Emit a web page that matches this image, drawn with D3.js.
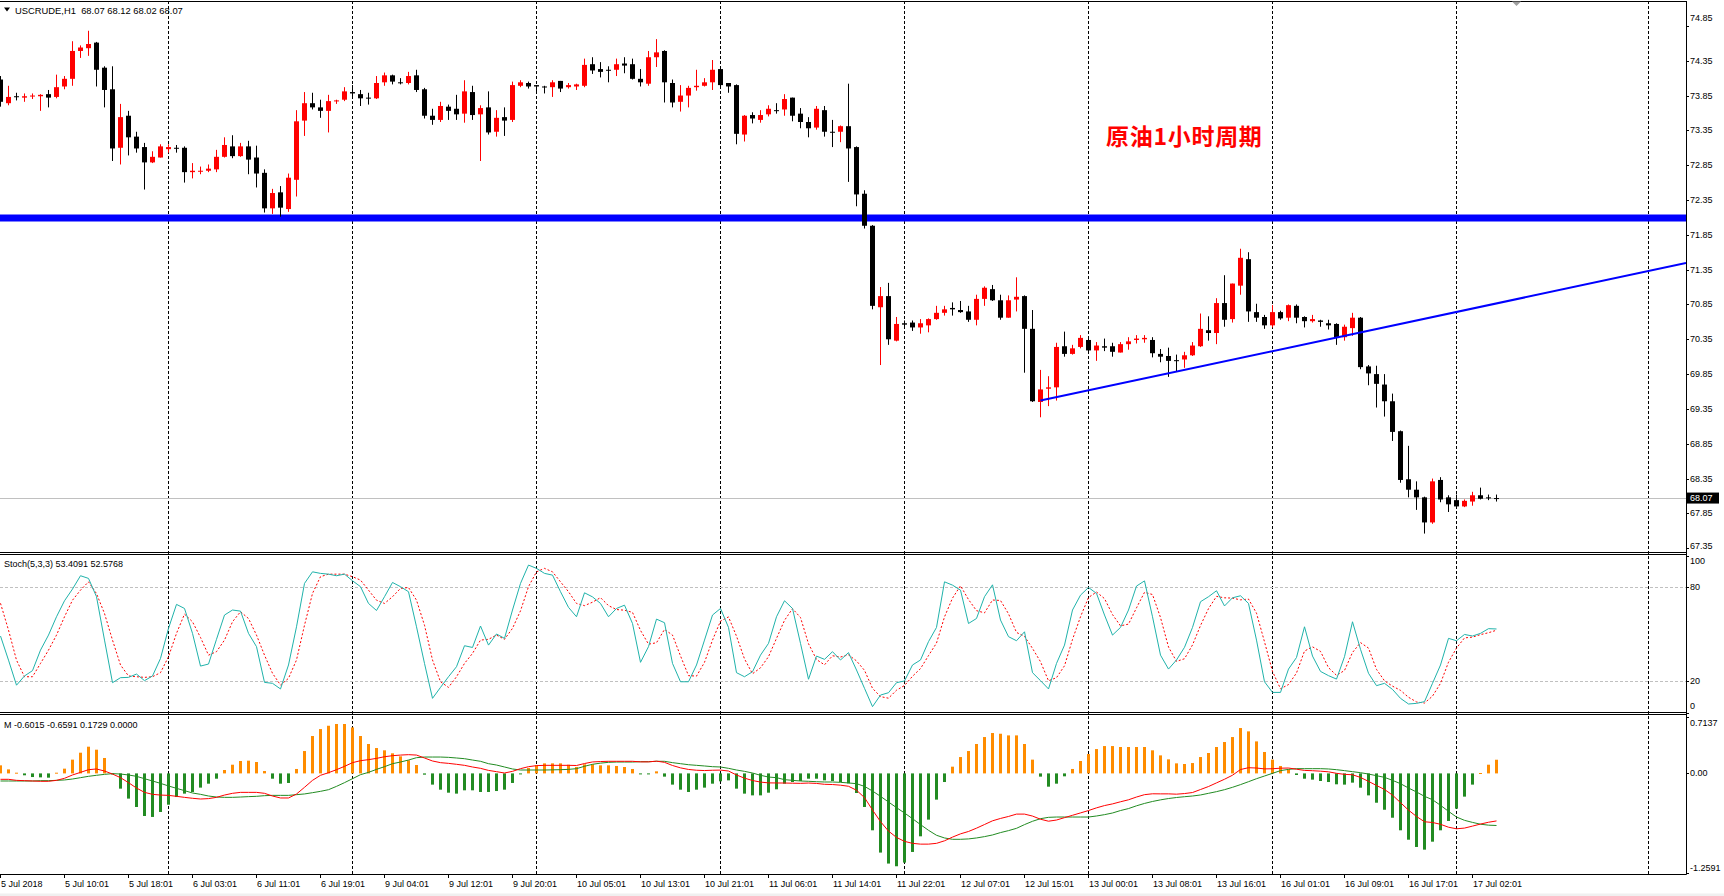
<!DOCTYPE html>
<html>
<head>
<meta charset="utf-8">
<style>
  body { margin: 0; background: #fff; }
  svg text { font-family: "Liberation Sans", Arial, sans-serif; font-size: 9px; fill: #000; }
</style>
<script src="https://d3js.org/d3.v7.min.js"></script>
</head>
<body>
<script>
// USCRUDE H1 candles, one per hour, bar 0 = 5 Jul 02:01
var opens = [
74.08,73.74,73.84,73.82,73.84,73.84,73.87,73.83,73.98,74.09,
74.49,74.53,74.61,74.25,73.94,73.10,73.56,73.26,73.11,72.89,
72.96,73.08,73.10,73.10,72.75,72.76,72.77,72.79,72.97,73.12,
72.98,73.12,72.96,72.74,72.23,72.46,72.22,72.64,73.49,73.74,
73.68,73.63,73.77,73.79,73.90,73.87,73.82,73.81,74.04,74.14,
74.04,74.03,74.14,73.94,73.56,73.50,73.69,73.66,73.59,73.90,
73.58,73.68,73.33,73.54,73.50,73.99,74.03,74.00,73.98,73.97,
74.06,73.97,73.98,73.99,74.30,74.23,74.22,74.22,74.31,74.30,
74.09,74.02,74.40,74.49,74.03,73.76,73.85,73.97,73.99,74.04,
74.23,74.03,74.00,73.29,73.57,73.50,73.58,73.64,73.65,73.82,
73.59,73.47,73.39,73.64,73.33,73.33,73.41,73.11,72.44,71.98,
70.81,70.97,70.33,70.58,70.59,70.52,70.55,70.64,70.73,70.80,
70.77,70.75,70.63,70.93,71.07,70.91,70.66,70.92,70.97,70.50,
69.45,69.64,69.66,70.25,70.14,70.24,70.34,70.19,70.25,70.25,
70.16,70.28,70.34,70.35,70.34,70.14,70.11,70.05,70.06,70.12,
70.25,70.48,70.44,70.87,70.64,71.12,71.50,70.74,70.67,70.55,
70.74,70.66,70.83,70.67,70.61,70.62,70.58,70.57,70.38,70.51,
70.66,69.96,69.85,69.70,69.46,69.03,68.34,68.19,68.08,67.72,
68.33,68.08,68.04,67.95,68.02,68.11,68.08,68.07];
var highs = [
74.13,73.99,73.89,73.88,73.88,73.87,73.93,74.15,74.13,74.63,
74.57,74.78,74.62,74.27,74.27,73.73,73.63,73.33,73.17,73.05,
73.15,73.15,73.14,73.12,72.88,72.83,72.86,73.07,73.25,73.28,
73.17,73.20,73.13,72.79,72.51,72.55,72.73,73.64,73.90,73.89,
73.79,73.86,73.79,73.97,74.00,73.93,73.89,74.13,74.18,74.15,
74.10,74.19,74.22,73.96,73.66,73.76,73.72,73.86,74.07,73.99,
73.71,73.91,73.64,73.68,74.05,74.07,74.05,74.00,73.99,74.07,
74.06,74.03,74.02,74.38,74.40,74.33,74.27,74.38,74.40,74.38,
74.23,74.49,74.66,74.50,74.08,74.00,73.99,74.22,74.10,74.36,
74.26,74.03,74.01,73.57,73.61,73.64,73.71,73.74,73.87,73.82,
73.67,73.54,73.70,73.70,73.50,73.42,74.02,73.12,72.49,71.99,
71.10,71.16,70.67,70.62,70.62,70.64,70.65,70.83,70.83,70.88,
70.90,70.83,70.99,71.11,71.13,70.99,70.98,71.24,70.98,70.77,
69.91,69.82,70.30,70.46,70.27,70.41,70.38,70.31,70.36,70.30,
70.31,70.38,70.41,70.41,70.38,70.21,70.23,70.13,70.17,70.31,
70.72,70.68,70.94,71.27,71.15,71.65,71.60,70.86,70.70,70.84,
70.76,70.85,70.85,70.68,70.70,70.63,70.63,70.58,70.56,70.73,
70.67,69.98,69.97,69.85,69.57,69.04,68.82,68.31,68.09,68.35,
68.37,68.11,68.12,68.05,68.16,68.22,68.12,68.12];
var lows = [
73.69,73.71,73.78,73.76,73.80,73.63,73.68,73.81,73.94,73.99,
74.39,74.42,73.98,73.68,72.91,72.86,72.99,73.03,72.50,72.88,
72.96,73.03,73.03,72.60,72.66,72.72,72.75,72.75,72.96,72.95,
72.97,72.72,72.53,72.17,72.15,72.11,72.18,72.40,73.27,73.65,
73.53,73.32,73.73,73.77,73.80,73.70,73.72,73.80,73.99,74.01,
74.01,74.01,73.90,73.52,73.43,73.47,73.50,73.50,73.46,73.50,
72.91,73.29,73.26,73.27,73.47,73.97,73.95,73.88,73.88,73.83,
73.90,73.95,73.93,73.97,74.16,74.11,74.04,74.13,74.17,74.08,
73.98,73.99,74.26,73.75,73.68,73.62,73.68,73.92,73.98,73.93,
73.96,73.89,73.15,73.19,73.45,73.46,73.55,73.59,73.56,73.48,
73.38,73.25,73.36,73.26,73.11,73.18,72.61,72.26,71.94,70.78,
69.98,70.27,70.32,70.50,70.47,70.43,70.45,70.63,70.69,70.69,
70.73,70.60,70.55,70.83,70.90,70.63,70.66,70.75,69.87,69.45,
69.23,69.39,69.47,70.10,70.13,70.22,70.17,70.04,70.18,70.10,
70.16,70.20,70.29,70.30,70.09,70.02,69.81,69.88,69.94,70.11,
70.24,70.33,70.28,70.53,70.59,70.99,70.60,70.60,70.50,70.52,
70.63,70.61,70.58,70.52,70.59,70.53,70.49,70.27,70.33,70.40,
69.92,69.69,69.37,69.24,68.89,68.29,68.08,67.90,67.56,67.70,
68.01,67.87,67.93,67.94,67.96,68.05,68.04,68.02];
var closes = [
73.76,73.83,73.83,73.84,73.85,73.86,73.82,73.97,74.09,74.49,
74.54,74.59,74.22,73.93,73.09,73.54,73.25,73.09,72.89,72.97,
73.12,73.11,73.09,72.75,72.77,72.77,72.80,72.97,73.14,72.98,
73.12,72.93,72.73,72.23,72.45,72.24,72.67,73.48,73.74,73.68,
73.63,73.77,73.78,73.91,73.88,73.81,73.81,74.03,74.14,74.05,
74.03,74.13,73.93,73.56,73.50,73.70,73.63,73.58,73.91,73.57,
73.67,73.32,73.53,73.49,74.00,74.04,73.98,73.98,73.97,74.04,
73.95,74.00,74.01,74.29,74.21,74.19,74.21,74.30,74.28,74.09,
74.04,74.40,74.47,74.04,73.75,73.85,73.96,73.99,74.04,74.22,
74.00,73.98,73.30,73.56,73.52,73.57,73.66,73.63,73.80,73.56,
73.47,73.38,73.66,73.33,73.32,73.41,73.09,72.43,71.98,70.83,
70.97,70.35,70.57,70.56,70.52,70.58,70.64,70.73,70.78,70.78,
70.74,70.63,70.93,71.09,70.91,70.66,70.91,70.96,70.50,69.46,
69.63,69.66,70.24,70.14,70.22,70.37,70.19,70.26,70.23,70.17,
70.28,70.32,70.36,70.37,70.15,70.10,70.04,70.04,70.12,70.26,
70.50,70.44,70.87,70.63,71.15,71.52,70.75,70.66,70.55,70.74,
70.65,70.84,70.66,70.61,70.64,70.60,70.55,70.37,70.53,70.66,
69.95,69.86,69.71,69.46,69.02,68.33,68.19,68.08,67.72,68.31,
68.05,67.98,67.95,68.03,68.11,68.06,68.07,68.07];

// Stochastic (5,3,3): main and signal
var stochMain = [
48.9,33.5,17.5,23.4,26.8,39.9,49.5,61.2,71.4,78.9,
87.4,85.7,74.0,46.3,19.1,22.3,22.5,24.6,20.4,23.4,
34.6,53.8,69.1,66.5,50.6,29.7,31.0,46.8,62.3,65.5,
64.8,50.6,42.1,19.3,18.7,15.1,30.4,54.8,82.5,89.9,
88.9,88.4,87.4,88.4,84.2,80.4,69.7,65.2,74.0,83.1,
80.4,77.2,54.8,31.4,9.1,16.1,22.9,29.3,42.7,41.6,
55.3,43.1,50.2,47.4,65.5,82.5,94.2,92.1,88.9,87.8,
77.2,67.2,61.2,76.5,73.9,69.7,61.2,66.5,68.6,56.9,
32.1,42.1,59.7,57.4,31.4,19.7,19.7,30.4,46.3,62.3,
66.5,54.4,25.5,22.9,26.1,36.7,44.2,61.2,71.4,66.5,
44.2,21.3,36.1,34.0,38.9,33.6,38.3,27.2,15.5,3.8,
11.2,12.7,19.1,20.2,30.4,33.6,45.3,54.4,83.5,81.4,
78.2,56.9,60.1,74.0,81.6,59.1,48.5,45.9,51.6,25.5,
20.4,15.1,31.4,43.1,65.5,75.0,79.9,76.1,62.3,49.5,
54.4,65.5,80.8,84.1,61.2,36.7,27.8,33.6,41.7,54.4,
70.8,74.0,77.8,68.1,73.3,74.6,69.7,46.3,19.7,12.9,
12.9,27.8,35.2,54.8,36.1,26.3,23.6,21.4,35.7,58.0,
40.4,25.1,17.2,18.7,14.8,9.1,5.5,5.9,7.0,18.7,
30.4,47.4,45.9,49.9,48.9,50.6,53.6,53.4];
var stochSignal = [
69.8,52.7,33.5,22.9,22.9,31.4,39.9,49.5,61.2,71.8,
78.2,83.5,76.0,63.3,46.3,30.4,23.4,22.9,22.5,22.9,
25.5,35.7,50.6,62.9,58.0,48.0,36.7,38.9,46.3,58.0,
64.4,60.1,49.5,36.7,25.1,17.6,21.9,33.6,55.8,76.1,
86.8,88.4,88.4,88.4,86.8,84.6,78.2,71.8,69.7,74.0,
79.3,79.9,71.8,55.8,33.6,19.7,16.1,22.9,31.4,37.8,
46.3,46.8,49.5,46.8,53.8,65.0,80.4,89.9,92.1,89.9,
83.5,77.2,69.7,68.3,70.5,73.4,68.3,65.8,65.4,64.0,
52.5,43.7,44.6,53.1,49.5,36.2,23.6,23.3,32.1,46.3,
58.4,61.1,48.8,34.3,24.8,28.6,35.7,47.4,58.9,66.4,
60.7,44.0,33.9,30.5,36.3,35.5,36.9,33.0,27.0,15.5,
10.2,9.2,14.3,17.3,23.2,28.1,36.4,44.4,61.1,73.1,
81.0,72.2,65.1,63.7,71.9,71.6,63.1,51.2,48.7,41.0,
32.5,20.3,22.3,29.9,46.7,61.2,73.5,77.0,72.8,62.6,
55.4,56.5,66.9,76.8,75.4,60.7,41.9,32.7,34.4,43.2,
55.6,66.4,74.2,73.3,73.1,72.0,72.5,63.5,45.2,26.3,
15.2,17.9,25.3,39.3,42.0,39.1,28.7,23.8,26.9,38.4,
44.7,41.2,27.6,20.3,16.9,14.2,9.8,6.8,6.1,10.5,
18.7,32.2,41.2,47.7,48.2,49.8,51.0,52.6];

// MACD: histogram, main (red) and signal (green)
var macdHist = [
0.102,0.051,0.009,-0.024,-0.046,-0.050,-0.054,0.009,0.060,0.174,
0.262,0.338,0.300,0.195,-0.008,-0.193,-0.319,-0.425,-0.539,-0.551,
-0.488,-0.396,-0.299,-0.256,-0.235,-0.180,-0.130,-0.067,0.043,0.110,
0.157,0.161,0.144,0.030,-0.067,-0.130,-0.121,0.056,0.283,0.473,
0.561,0.603,0.625,0.625,0.582,0.473,0.372,0.321,0.292,0.254,
0.216,0.166,0.106,-0.016,-0.142,-0.206,-0.244,-0.256,-0.214,-0.214,
-0.235,-0.235,-0.223,-0.206,-0.121,-0.008,0.068,0.102,0.127,0.127,
0.127,0.110,0.081,0.115,0.115,0.102,0.102,0.094,0.081,0.056,
-0.012,-0.012,0.026,-0.041,-0.142,-0.206,-0.235,-0.206,-0.180,-0.130,
-0.100,-0.088,-0.193,-0.256,-0.278,-0.278,-0.244,-0.201,-0.130,-0.109,
-0.096,-0.067,-0.067,-0.088,-0.096,-0.109,-0.126,-0.248,-0.425,-0.720,
-1.002,-1.141,-1.175,-1.129,-0.994,-0.796,-0.585,-0.332,-0.109,0.085,
0.207,0.283,0.372,0.460,0.511,0.502,0.481,0.481,0.372,0.174,
-0.041,-0.168,-0.130,-0.037,0.056,0.157,0.245,0.308,0.346,0.346,
0.334,0.334,0.334,0.334,0.292,0.228,0.178,0.127,0.119,0.131,
0.207,0.258,0.334,0.397,0.460,0.574,0.532,0.405,0.271,0.174,
0.094,0.051,-0.020,-0.067,-0.079,-0.096,-0.109,-0.138,-0.142,-0.117,
-0.181,-0.278,-0.371,-0.460,-0.561,-0.720,-0.839,-0.931,-0.965,-0.864,
-0.720,-0.602,-0.446,-0.294,-0.142,0.005,0.110,0.173];
var macdMain = [
-0.075,-0.075,-0.088,-0.092,-0.096,-0.100,-0.100,-0.088,-0.062,-0.020,
0.013,0.047,0.056,0.030,-0.008,-0.054,-0.117,-0.185,-0.240,-0.265,
-0.274,-0.278,-0.290,-0.303,-0.315,-0.324,-0.319,-0.303,-0.274,-0.252,
-0.240,-0.240,-0.240,-0.252,-0.286,-0.311,-0.311,-0.261,-0.176,-0.088,
-0.024,0.009,0.047,0.089,0.136,0.161,0.174,0.190,0.211,0.224,
0.232,0.237,0.232,0.195,0.157,0.136,0.127,0.115,0.102,0.081,
0.064,0.038,0.022,0.005,0.026,0.060,0.085,0.098,0.102,0.102,
0.102,0.102,0.100,0.125,0.145,0.150,0.153,0.153,0.153,0.153,
0.146,0.146,0.155,0.140,0.100,0.070,0.050,0.040,0.036,0.040,
0.042,0.030,-0.020,-0.060,-0.090,-0.110,-0.120,-0.121,-0.122,-0.124,
-0.126,-0.122,-0.127,-0.138,-0.141,-0.149,-0.163,-0.213,-0.306,-0.463,
-0.610,-0.730,-0.810,-0.860,-0.885,-0.895,-0.895,-0.885,-0.853,-0.806,
-0.765,-0.735,-0.693,-0.647,-0.600,-0.570,-0.545,-0.515,-0.515,-0.540,
-0.580,-0.605,-0.590,-0.560,-0.530,-0.500,-0.470,-0.436,-0.407,-0.386,
-0.359,-0.334,-0.299,-0.269,-0.258,-0.259,-0.259,-0.263,-0.255,-0.242,
-0.204,-0.166,-0.120,-0.074,-0.023,0.049,0.072,0.068,0.057,0.059,
0.066,0.068,0.053,0.038,0.034,0.028,0.020,0.001,-0.012,-0.017,
-0.051,-0.101,-0.153,-0.203,-0.275,-0.370,-0.465,-0.545,-0.612,-0.621,
-0.644,-0.681,-0.701,-0.692,-0.667,-0.641,-0.618,-0.6015];
var macdSignal = [
-0.096,-0.096,-0.096,-0.096,-0.096,-0.092,-0.092,-0.088,-0.083,-0.071,
-0.054,-0.037,-0.024,-0.012,-0.003,-0.008,-0.020,-0.037,-0.067,-0.096,
-0.126,-0.159,-0.189,-0.218,-0.248,-0.265,-0.286,-0.299,-0.303,-0.303,
-0.299,-0.294,-0.290,-0.282,-0.278,-0.278,-0.278,-0.269,-0.260,-0.244,
-0.227,-0.206,-0.164,-0.117,-0.067,-0.016,0.013,0.051,0.085,0.123,
0.144,0.169,0.199,0.207,0.207,0.207,0.203,0.195,0.186,0.169,
0.153,0.123,0.106,0.081,0.056,0.043,0.043,0.043,0.043,0.045,
0.047,0.051,0.060,0.090,0.115,0.130,0.140,0.144,0.144,0.144,
0.148,0.148,0.153,0.153,0.136,0.123,0.110,0.102,0.094,0.085,
0.081,0.064,0.043,0.026,0.005,-0.024,-0.046,-0.054,-0.079,-0.088,
-0.096,-0.100,-0.105,-0.109,-0.109,-0.113,-0.121,-0.130,-0.164,-0.223,
-0.290,-0.362,-0.433,-0.501,-0.573,-0.648,-0.720,-0.783,-0.817,-0.834,
-0.834,-0.829,-0.817,-0.800,-0.779,-0.749,-0.724,-0.695,-0.648,-0.606,
-0.573,-0.556,-0.552,-0.552,-0.552,-0.552,-0.552,-0.539,-0.522,-0.501,
-0.470,-0.445,-0.410,-0.380,-0.355,-0.335,-0.318,-0.305,-0.295,-0.286,
-0.273,-0.252,-0.231,-0.206,-0.176,-0.142,-0.105,-0.067,-0.033,0.001,
0.035,0.051,0.060,0.060,0.060,0.060,0.056,0.047,0.035,0.022,
0.009,-0.008,-0.029,-0.050,-0.088,-0.130,-0.185,-0.235,-0.290,-0.333,
-0.404,-0.480,-0.552,-0.594,-0.620,-0.643,-0.655,-0.6591];

// axis text
var timeLabels = ["5 Jul 2018","5 Jul 10:01","5 Jul 18:01","6 Jul 03:01","6 Jul 11:01","6 Jul 19:01",
  "9 Jul 04:01","9 Jul 12:01","9 Jul 20:01","10 Jul 05:01","10 Jul 13:01","10 Jul 21:01",
  "11 Jul 06:01","11 Jul 14:01","11 Jul 22:01","12 Jul 07:01","12 Jul 15:01","13 Jul 00:01",
  "13 Jul 08:01","13 Jul 16:01","16 Jul 01:01","16 Jul 09:01","16 Jul 17:01","17 Jul 02:01"];
var labelEvery = 8;
var dayStarts = [21, 44, 67, 90, 113, 136, 159, 182, 206];   // bar index of each 00:01 bar
var priceTicks = [74.85,74.35,73.85,73.35,72.85,72.35,71.85,71.35,70.85,70.35,69.85,69.35,68.85,68.35,67.85,67.35];
var stochTicks = [100, 80, 20, 0];
var stochLevels = [80, 20];
var macdTicks = [0.7137, 0, -1.2591];
var lastPrice = 68.07;
var levelPrice = 72.09;                       // thick blue horizontal line
var trendPoints = [[130, 69.47], [168, 70.40]]; // blue trend line anchors (bar, price)
var note = {bar: 138.2, price: 73.28, text: "原油1小时周期"};

var width = 1724, height = 896, plotRight = 1686;
var n = closes.length;

var svg = d3.select("body").append("svg")
    .attr("width", width)
    .attr("height", height);

svg.append("rect").attr("width", width).attr("height", height).attr("fill", "#fff");
svg.append("rect").attr("x", 0).attr("y", 893.5).attr("width", width).attr("height", 3).attr("fill", "#f0f0f0");

var x = d3.scaleLinear().domain([0, 187]).range([0.5, 1496.5]);
var yPrice = d3.scaleLinear().domain([67.35, 74.85]).range([548.2, 25.9]);
var yStoch = d3.scaleLinear().domain([0, 100]).range([712.6, 556]);
var yMacd = d3.scaleLinear().domain([-1.2591, 0.7137]).range([872.9, 717]);

var panels = [
  {id: "clipPrice", top: 1, bottom: 552.5},
  {id: "clipStoch", top: 554.5, bottom: 712.7},
  {id: "clipMacd", top: 714.7, bottom: 874.3}
];
var defs = svg.append("defs");
panels.forEach(function(p) {
  defs.append("clipPath").attr("id", p.id).append("rect")
      .attr("x", 0).attr("y", p.top).attr("width", plotRight).attr("height", p.bottom - p.top);
});

// vertical day separators
svg.append("g").selectAll("line")
  .data(dayStarts)
  .enter().append("line")
    .attr("x1", function(d) { return Math.round(x(d) - 0.5) + 0.5; })
    .attr("x2", function(d) { return Math.round(x(d) - 0.5) + 0.5; })
    .attr("y1", 1).attr("y2", 874)
    .attr("stroke", "#000")
    .attr("stroke-dasharray", "3,2");

// stoch levels
svg.append("g").selectAll("line")
  .data(stochLevels)
  .enter().append("line")
    .attr("x1", 0).attr("x2", plotRight)
    .attr("y1", function(d) { return Math.round(yStoch(d)) + 0.5; })
    .attr("y2", function(d) { return Math.round(yStoch(d)) + 0.5; })
    .attr("stroke", "#c0c0c0")
    .attr("stroke-dasharray", "3,2");

// ---------- price panel ----------
var pg = svg.append("g").attr("clip-path", "url(#clipPrice)");

pg.append("line")
    .attr("x1", 0).attr("x2", plotRight)
    .attr("y1", Math.round(yPrice(lastPrice)) + 0.5)
    .attr("y2", Math.round(yPrice(lastPrice)) + 0.5)
    .attr("stroke", "#c0c0c0");

pg.append("line")
    .attr("x1", 0).attr("x2", plotRight)
    .attr("y1", yPrice(levelPrice)).attr("y2", yPrice(levelPrice))
    .attr("stroke", "#0000ff")
    .attr("stroke-width", 7);

var bars = d3.range(n);
var up = function(i) { return closes[i] > opens[i]; };
var candleColor = function(i) { return up(i) ? "#ff0000" : "#000000"; };

pg.append("g").selectAll("line")
  .data(bars)
  .enter().append("line")
    .attr("x1", function(i) { return x(i); })
    .attr("x2", function(i) { return x(i); })
    .attr("y1", function(i) { return yPrice(highs[i]); })
    .attr("y2", function(i) { return yPrice(lows[i]); })
    .attr("stroke", candleColor);

pg.append("g").selectAll("rect")
  .data(bars)
  .enter().append("rect")
    .attr("x", function(i) { return x(i) - 2.5; })
    .attr("width", 5)
    .attr("y", function(i) { return yPrice(Math.max(opens[i], closes[i])); })
    .attr("height", function(i) { return Math.max(1, Math.abs(yPrice(opens[i]) - yPrice(closes[i]))); })
    .attr("fill", candleColor);

// trend line, extended to the right edge
var slope = (trendPoints[1][1] - trendPoints[0][1]) / (trendPoints[1][0] - trendPoints[0][0]);
var endBar = x.invert(plotRight);
pg.append("line")
    .attr("x1", x(trendPoints[0][0]))
    .attr("y1", yPrice(trendPoints[0][1]))
    .attr("x2", x(endBar))
    .attr("y2", yPrice(trendPoints[0][1] + slope * (endBar - trendPoints[0][0])))
    .attr("stroke", "#0000ff")
    .attr("stroke-width", 2);

pg.append("text")
    .attr("x", x(note.bar))
    .attr("y", yPrice(note.price))
    .attr("dominant-baseline", "central")
    .style("font-family", "'Noto Sans CJK SC', sans-serif")
    .style("font-size", "23px")
    .style("font-weight", "bold")
    .style("letter-spacing", "0.7px")
    .style("fill", "#ff0000")
    .text(note.text);

// ---------- stochastic ----------
var sg = svg.append("g").attr("clip-path", "url(#clipStoch)");
sg.append("path")
    .datum(stochSignal)
    .attr("fill", "none")
    .attr("stroke", "#ff0000")
    .attr("stroke-dasharray", "2,2")
    .attr("d", d3.line().x(function(d, i) { return x(i); }).y(function(d) { return yStoch(d); }));
sg.append("path")
    .datum(stochMain)
    .attr("fill", "none")
    .attr("stroke", "#20b2aa")
    .attr("d", d3.line().x(function(d, i) { return x(i); }).y(function(d) { return yStoch(d); }));

// ---------- MACD ----------
var mg = svg.append("g").attr("clip-path", "url(#clipMacd)");
mg.append("g").selectAll("rect")
  .data(macdHist)
  .enter().append("rect")
    .attr("x", function(d, i) { return x(i) - 1.5; })
    .attr("width", 3)
    .attr("y", function(d) { return Math.min(yMacd(0), yMacd(d)); })
    .attr("height", function(d) { return Math.max(1, Math.abs(yMacd(d) - yMacd(0))); })
    .attr("fill", function(d) { return d >= 0 ? "#ff8c00" : "#228b22"; });
mg.append("path")
    .datum(macdSignal)
    .attr("fill", "none")
    .attr("stroke", "#228b22")
    .attr("d", d3.line().x(function(d, i) { return x(i); }).y(function(d) { return yMacd(d); }));
mg.append("path")
    .datum(macdMain)
    .attr("fill", "none")
    .attr("stroke", "#ff0000")
    .attr("d", d3.line().x(function(d, i) { return x(i); }).y(function(d) { return yMacd(d); }));

// ---------- frames ----------
var frame = svg.append("g").attr("stroke", "#000").attr("fill", "none");
[1.5, 552.5, 554.5, 712.5, 714.5, 874.5].forEach(function(y) {
  frame.append("line").attr("x1", 0).attr("x2", plotRight + 0.5).attr("y1", y).attr("y2", y);
});
frame.append("line").attr("x1", plotRight + 0.5).attr("x2", plotRight + 0.5).attr("y1", 1).attr("y2", 874.5);

// ---------- right scales ----------
function rightScale(vals, scale, top, bottom, margin, fmt) {
  var g = svg.append("g");
  g.selectAll("line").data(vals).enter().append("line")
      .attr("x1", plotRight).attr("x2", plotRight + 3)
      .attr("y1", function(d) { return Math.round(scale(d)) + 0.5; })
      .attr("y2", function(d) { return Math.round(scale(d)) + 0.5; })
      .attr("stroke", "#000");
  g.selectAll("text").data(vals).enter().append("text")
      .attr("x", plotRight + 4)
      .attr("y", function(d) { return Math.max(top + margin, Math.min(bottom - margin, scale(d))); })
      .attr("dominant-baseline", "central")
      .text(fmt);
  return g;
}
rightScale(priceTicks, yPrice, 1, 552.5, 6.5, function(d) { return d.toFixed(2); })
  .selectAll("text").filter(function(d) { return d === priceTicks[0]; })
    .attr("y", yPrice(priceTicks[0]) - 8);
rightScale(stochTicks, yStoch, 554.5, 712.7, 6.6, function(d) { return d; });
rightScale(macdTicks, yMacd, 716, 874.3, 6.6, function(d) { return d === 0 ? "0.00" : d.toFixed(4); });

// last price tag
svg.append("rect")
    .attr("x", plotRight + 1).attr("y", yPrice(lastPrice) - 5.5)
    .attr("width", 32).attr("height", 11)
    .attr("fill", "#000");
svg.append("text")
    .attr("x", plotRight + 4).attr("y", yPrice(lastPrice))
    .attr("dominant-baseline", "central")
    .style("fill", "#fff")
    .text(lastPrice.toFixed(2));

// ---------- time axis ----------
var tg = svg.append("g");
tg.selectAll("line").data(timeLabels).enter().append("line")
    .attr("x1", function(d, k) { return Math.round(x(k * labelEvery) - 0.5) + 0.5; })
    .attr("x2", function(d, k) { return Math.round(x(k * labelEvery) - 0.5) + 0.5; })
    .attr("y1", 874.5).attr("y2", 878)
    .attr("stroke", "#000");
tg.selectAll("text").data(timeLabels).enter().append("text")
    .attr("x", function(d, k) { return x(k * labelEvery) + 0.5; })
    .attr("y", 884)
    .attr("dominant-baseline", "central")
    .text(function(d) { return d; });

// ---------- titles ----------
svg.append("path")
    .attr("d", "M4,7.5 L10,7.5 L7,11.5 Z")
    .attr("fill", "#000");
svg.append("text")
    .attr("x", 15).attr("y", 10)
    .attr("dominant-baseline", "central")
    .style("white-space", "pre")
    .style("font-size", "9.4px")
    .text("USCRUDE,H1  " + [opens[n-1], highs[n-1], lows[n-1], closes[n-1]].map(function(v) { return v.toFixed(2); }).join(" "));
svg.append("path")
    .attr("d", "M1512,1.5 L1521,1.5 L1516.5,6 Z")
    .attr("fill", "#a0a0a0");
svg.append("text")
    .attr("x", 4).attr("y", 564)
    .attr("dominant-baseline", "central")
    .text("Stoch(5,3,3) 53.4091 52.5768");
svg.append("text")
    .attr("x", 4).attr("y", 725)
    .attr("dominant-baseline", "central")
    .text("M -0.6015 -0.6591 0.1729 0.0000");
</script>
</body>
</html>
